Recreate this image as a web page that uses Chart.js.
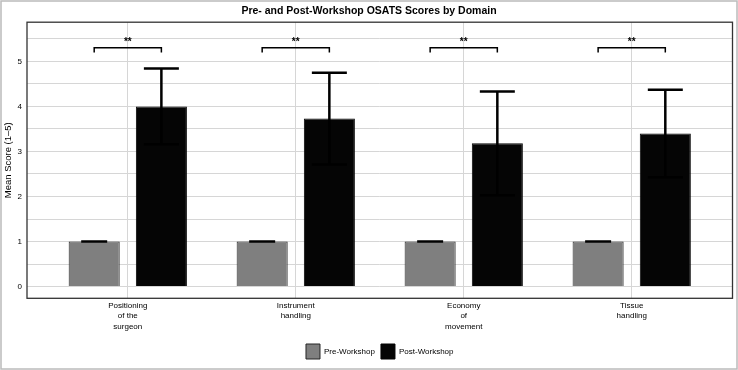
<!DOCTYPE html>
<html>
<head>
<meta charset="utf-8">
<title>Pre- and Post-Workshop OSATS Scores by Domain</title>
<script src="https://cdn.jsdelivr.net/npm/chart.js@4.4.1/dist/chart.umd.min.js"></script>
<style>
  html, body { margin: 0; padding: 0; background: #fff; overflow: hidden; }
  #wrap { position: relative; width: 738px; height: 370px; }
</style>
</head>
<body>
<div id="wrap"><canvas id="chart"></canvas></div>
<script>
// domain labels, one entry per line
const domains = [
  ["Positioning", "of the", "surgeon"],
  ["Instrument", "handling"],
  ["Economy", "of", "movement"],
  ["Tissue", "handling"]
];
const preMean = [1, 1, 1, 1];
const preSd = [0, 0, 0, 0];
const postMean = [4.0, 3.73, 3.18, 3.4];
const postSd = [0.84, 1.02, 1.15, 0.97];
const sigLabels = ["**", "**", "**", "**"];
const yTickValues = [0, 1, 2, 3, 4, 5];
const bracketY = 5.3;
const bracketDrop = 0.1;

Chart.defaults.font.family = '"Liberation Sans", Arial, Helvetica, sans-serif';
Chart.defaults.color = "#000";

const toPoints = (vals) => vals.map((v, i) => ({ x: i, y: v }));

// white page, outer frame and panel border
const frame = {
  id: "frame",
  beforeDraw(chart) {
    const ctx = chart.ctx;
    ctx.save();
    ctx.fillStyle = "#fff";
    ctx.fillRect(0, 0, chart.width, chart.height);
    ctx.restore();
  },
  afterDraw(chart) {
    const ctx = chart.ctx;
    const a = chart.chartArea;
    ctx.save();
    ctx.strokeStyle = "#333";
    ctx.lineWidth = 1.3;
    ctx.strokeRect(a.left, a.top, a.right - a.left, a.bottom - a.top);
    ctx.strokeStyle = "#bbb";
    ctx.lineWidth = 1.5;
    ctx.strokeRect(1, 1, chart.width - 2, chart.height - 2);
    ctx.restore();
  }
};

// error bars and significance brackets
const extras = {
  id: "extras",
  afterDatasetsDraw(chart) {
    const ctx = chart.ctx;
    const y = chart.scales.y;
    const sets = [
      { mean: preMean, sd: preSd, cap: 13 },
      { mean: postMean, sd: postSd, cap: 17.5 }
    ];
    ctx.save();
    ctx.strokeStyle = "#000";
    ctx.lineWidth = 2.5;
    sets.forEach((s, d) => {
      chart.getDatasetMeta(d).data.forEach((bar, i) => {
        const top = y.getPixelForValue(s.mean[i] + s.sd[i]);
        const bot = y.getPixelForValue(s.mean[i] - s.sd[i]);
        ctx.beginPath();
        ctx.moveTo(bar.x, top);
        ctx.lineTo(bar.x, bot);
        ctx.moveTo(bar.x - s.cap, top);
        ctx.lineTo(bar.x + s.cap, top);
        ctx.moveTo(bar.x - s.cap, bot);
        ctx.lineTo(bar.x + s.cap, bot);
        ctx.stroke();
      });
    });

    const pre = chart.getDatasetMeta(0).data;
    const post = chart.getDatasetMeta(1).data;
    const yl = y.getPixelForValue(bracketY);
    const ye = y.getPixelForValue(bracketY - bracketDrop);
    ctx.lineWidth = 1.5;
    ctx.fillStyle = "#000";
    ctx.font = 'bold 10px "Liberation Sans", Arial, sans-serif';
    ctx.textAlign = "center";
    ctx.textBaseline = "middle";
    sigLabels.forEach((lab, i) => {
      const x0 = pre[i].x, x1 = post[i].x;
      ctx.beginPath();
      ctx.moveTo(x0, ye);
      ctx.lineTo(x0, yl);
      ctx.lineTo(x1, yl);
      ctx.lineTo(x1, ye);
      ctx.stroke();
      ctx.fillText(lab, (x0 + x1) / 2, yl - 6);
    });
    ctx.restore();
  }
};

new Chart(document.getElementById("chart"), {
  type: "bar",
  data: {
    datasets: [
      {
        label: "Pre-Workshop",
        data: toPoints(preMean),
        backgroundColor: "#7f7f7f",
        borderColor: "#262626",
        borderWidth: 1,
        categoryPercentage: 0.8,
        barPercentage: 0.76
      },
      {
        label: "Post-Workshop",
        data: toPoints(postMean),
        backgroundColor: "#050505",
        borderColor: "#050505",
        borderWidth: 1,
        categoryPercentage: 0.8,
        barPercentage: 0.76
      }
    ]
  },
  options: {
    responsive: true,
    maintainAspectRatio: false,
    animation: false,
    layout: { padding: { left: 0, right: 0, top: 0, bottom: 1 } },
    plugins: {
      title: {
        display: true,
        text: "Pre- and Post-Workshop OSATS Scores by Domain",
        font: { size: 10.5, weight: "bold" },
        color: "#000",
        padding: { top: 5, bottom: 4.6 }
      },
      legend: {
        position: "bottom",
        fullSize: false,
        labels: {
          boxWidth: 14,
          boxHeight: 15,
          padding: 6,
          font: { size: 8 },
          color: "#000"
        }
      },
      tooltip: { enabled: false }
    },
    scales: {
      x: {
        type: "linear",
        min: -0.6,
        max: 3.6,
        offset: false,
        afterBuildTicks(scale) {
          scale.ticks = domains.map((_, i) => ({ value: i }));
        },
        afterFit(scale) {
          scale.height = 39.7;
          scale.paddingRight = 5.5;
        },
        ticks: {
          autoSkip: false,
          maxRotation: 0,
          padding: 2,
          font: { size: 8, lineHeight: 1.3 },
          color: "#000",
          callback: (v) => domains[v] || ""
        },
        grid: { color: "#d6d6d6", lineWidth: 1, drawTicks: false, offset: false },
        border: { display: false }
      },
      y: {
        min: -0.26,
        max: 5.87,
        afterBuildTicks(scale) {
          const t = [];
          for (let v = 0; v <= 5.5; v += 0.5) t.push({ value: v });
          scale.ticks = t;
        },
        afterFit(scale) {
          scale.width = 27;
        },
        ticks: {
          padding: 5,
          font: { size: 8 },
          color: "#000",
          callback: (v) => (yTickValues.includes(v) ? String(v) : "")
        },
        grid: { color: "#d6d6d6", lineWidth: 1, drawTicks: false },
        border: { display: false },
        title: {
          display: true,
          text: "Mean Score (1\u20135)",
          font: { size: 9.5 },
          color: "#000",
          padding: { top: 3, bottom: 0 }
        }
      }
    }
  },
  plugins: [frame, extras]
});
</script>
</body>
</html>
